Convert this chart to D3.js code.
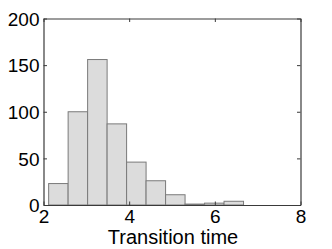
<!DOCTYPE html>
<html><head><meta charset="utf-8">
<script src="https://cdn.jsdelivr.net/npm/d3@7"></script>
<style>body{margin:0;background:#fff}svg{display:block}text{font-family:"Liberation Sans",Arial,Helvetica,sans-serif;fill:#000}</style>
</head><body><div id="chart"></div>
<script>
const binLeft = [2.12, 2.575, 3.03, 3.485, 3.94, 4.395, 4.85, 5.305, 5.76, 6.215];
const binWidth = 0.455;
const counts = [23, 100, 156, 87, 46, 26, 11, 1, 2, 4];
const xTicks = [2, 4, 6, 8];
const yTicks = [0, 50, 100, 150, 200];
const xLabel = "Transition time";

const W = 332, H = 249;
const m = {left: 43.5, right: 31.5, top: 18.5, bottom: 44};
const svg = d3.select("#chart").append("svg").attr("width", W).attr("height", H);
const x = d3.scaleLinear().domain([2, 8]).range([m.left, W - m.right]);
const y = d3.scaleLinear().domain([0, 200]).range([H - m.bottom, m.top]);

svg.append("g").selectAll("rect").data(counts).join("rect")
  .attr("x", (d, i) => x(binLeft[i]))
  .attr("width", (d, i) => x(binLeft[i] + binWidth) - x(binLeft[i]))
  .attr("y", d => y(d))
  .attr("height", d => y(0) - y(d))
  .attr("fill", "#dcdcdc").attr("stroke", "#7a7a7a").attr("stroke-width", 1);

const axisColor = "#3a3a3a";
const tl = 3.5;
const fmt = d3.format("d");
const gB = svg.append("g").attr("transform", `translate(0,${y(0)})`)
  .call(d3.axisBottom(x).tickValues(xTicks).tickFormat(fmt).tickSizeInner(-tl).tickSizeOuter(0).tickPadding(5));
const gT = svg.append("g").attr("transform", `translate(0,${y(200)})`)
  .call(d3.axisTop(x).tickValues(xTicks).tickSizeInner(-tl).tickSizeOuter(0).tickFormat(""));
const gL = svg.append("g").attr("transform", `translate(${x(2)},0)`)
  .call(d3.axisLeft(y).tickValues(yTicks).tickFormat(fmt).tickSizeInner(-tl).tickSizeOuter(0).tickPadding(4));
const gR = svg.append("g").attr("transform", `translate(${x(8)},0)`)
  .call(d3.axisRight(y).tickValues(yTicks).tickSizeInner(-tl).tickSizeOuter(0).tickFormat(""));
[gB, gT, gL, gR].forEach(g => {
  g.selectAll("path").attr("stroke", axisColor).attr("stroke-width", 1.2);
  g.selectAll("line").attr("stroke", axisColor);
  g.selectAll("text").style("font-size", "19px").attr("fill", "#000");
});
gB.selectAll("text").attr("dy", "0.71em");
gL.selectAll("text").attr("dy", "0.36em");

svg.append("text").attr("x", (x(2) + x(8)) / 2 + 1).attr("y", 244)
  .attr("text-anchor", "middle").style("font-size", "20px").text(xLabel);
</script></body></html>
